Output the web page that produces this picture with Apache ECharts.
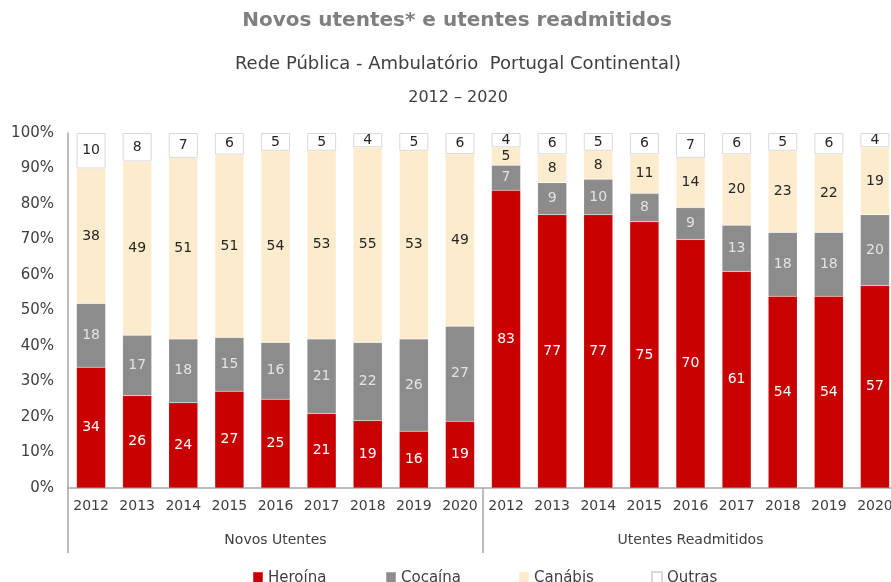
<!DOCTYPE html>
<html>
<head>
<meta charset="utf-8">
<script src="https://cdn.jsdelivr.net/npm/echarts@6/dist/echarts.min.js"></script>
<style>
  html, body { margin: 0; padding: 0; background: #fff; }
  #chart { width: 891px; height: 582px; }
</style>
</head>
<body>
<div id="chart"></div>
<script>
// dados
var years = ["2012", "2013", "2014", "2015", "2016", "2017", "2018", "2019", "2020"];
var groups = ["Novos Utentes", "Utentes Readmitidos"];
var seriesNames = ["Heroína", "Cocaína", "Canábis", "Outras"];

var heroina = [34, 26, 24, 27, 25, 21, 19, 16, 19, 83, 77, 77, 75, 70, 61, 54, 54, 57];
var cocaina = [18, 17, 18, 15, 16, 21, 22, 26, 27, 7, 9, 10, 8, 9, 13, 18, 18, 20];
var canabis = [38, 49, 51, 51, 54, 53, 55, 53, 49, 5, 8, 8, 11, 14, 20, 23, 22, 19];
var outras = [10, 8, 7, 6, 5, 5, 4, 5, 6, 4, 6, 5, 6, 7, 6, 5, 6, 4];

var yTicks = [0, 10, 20, 30, 40, 50, 60, 70, 80, 90, 100];

var FONT = "'DejaVu Sans', sans-serif";

var chart = echarts.init(document.getElementById("chart"));

var categories = years.concat(years);
var raw = [heroina, cocaina, canabis, outras];

// 100% empilhado: normaliza cada coluna
var totals = categories.map(function (c, i) {
  return heroina[i] + cocaina[i] + canabis[i] + outras[i];
});

var colors = ["#c80000", "#8c8c8c", "#fdebcd", "#ffffff"];
var labelColors = ["#ffffff", "#e3e3e3", "#262626", "#262626"];

var series = seriesNames.map(function (name, s) {
  return {
    name: name,
    type: "bar",
    stack: "total",
    barWidth: "63%",
    data: raw[s].map(function (v, i) {
      return (v / totals[i]) * 100;
    }),
    itemStyle: {
      color: colors[s],
      borderColor: s === 3 ? "#d9d9d9" : "rgba(255,255,255,0.25)",
      borderWidth: s === 3 ? 1 : 0.5,
    },
    label: {
      show: true,
      position: "inside",
      fontFamily: FONT,
      fontSize: 14,
      color: labelColors[s],
      formatter: function (p) {
        return raw[s][p.dataIndex];
      },
    },
  };
});

// uma legenda por série, com espaçamento fixo (como no Excel)
var legends = seriesNames.map(function (name, s) {
  return {
    data: [name],
    left: 247 + s * 133,
    top: 566,
    itemWidth: 10,
    itemHeight: 13,
    itemGap: 0,
    icon: "rect",
    textStyle: { fontFamily: FONT, fontSize: 15, color: "#404040" },
  };
});

var option = {
  animation: false,
  textStyle: { fontFamily: FONT },
  title: [
    {
      text: "Novos utentes* e utentes readmitidos",
      left: 452,
      textAlign: "center",
      top: 6,
      textStyle: { fontFamily: FONT, fontSize: 20, fontWeight: "bold", color: "#7f7f7f" },
    },
    {
      text: "Rede Pública - Ambulatório  Portugal Continental)",
      left: 453,
      textAlign: "center",
      top: 50,
      textStyle: { fontFamily: FONT, fontSize: 18, fontWeight: "normal", color: "#404040" },
    },
    {
      text: "2012 – 2020",
      left: 453,
      textAlign: "center",
      top: 85,
      textStyle: { fontFamily: FONT, fontSize: 16, fontWeight: "normal", color: "#404040" },
    },
  ],
  legend: legends,
  grid: {
    left: 68,
    top: 133,
    width: 830,
    bottom: 94,
    containLabel: false,
    outerBoundsMode: "none",
  },
  xAxis: [
    {
      type: "category",
      data: categories,
      axisLine: { show: true, lineStyle: { color: "#a6a6a6", width: 1.5 } },
      axisTick: { show: false },
      axisLabel: { interval: 0, margin: 11, fontFamily: FONT, fontSize: 14, color: "#404040" },
    },
    {
      type: "category",
      position: "bottom",
      data: groups,
      axisLine: { show: false },
      axisTick: { show: true, length: 65, lineStyle: { color: "#a6a6a6", width: 1.5 } },
      axisLabel: { interval: 0, margin: 45, fontFamily: FONT, fontSize: 14, color: "#404040" },
    },
  ],
  yAxis: {
    type: "value",
    min: yTicks[0],
    max: yTicks[yTicks.length - 1],
    interval: yTicks[1] - yTicks[0],
    axisLine: { show: true, lineStyle: { color: "#a6a6a6", width: 1.5 } },
    axisTick: { show: false },
    splitLine: { show: false },
    axisLabel: { margin: 14, fontFamily: FONT, fontSize: 15, color: "#404040", formatter: "{value}%" },
  },
  series: series,
};

chart.setOption(option);
</script>
</body>
</html>
